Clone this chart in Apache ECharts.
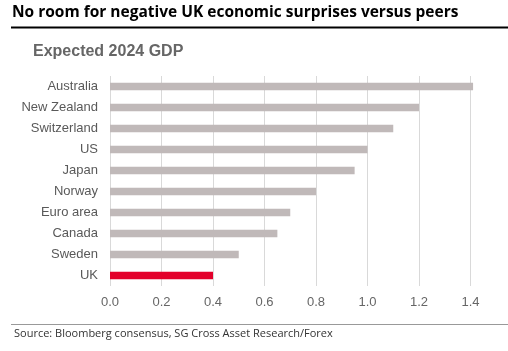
<!DOCTYPE html>
<html style="height: 100%">
<head>
   <meta charset="utf-8">
</head>
<style>
    body, html, #chart {
        margin: 0;
        width: 100%;
        height: 100%;
        background: #fff;
    }
</style>
<title>Expected 2024 GDP</title>
<script src="https://cdn.jsdelivr.net/npm/echarts@6/dist/echarts.min.js"></script>
<body>
   <div id="chart"></div>
   <script type="text/javascript">
    // data, top to bottom as drawn
    var countries = ['Australia', 'New Zealand', 'Switzerland', 'US', 'Japan', 'Norway', 'Euro area', 'Canada', 'Sweden', 'UK'];
    var gdp2024 = [1.41, 1.2, 1.1, 1.0, 0.95, 0.8, 0.7, 0.65, 0.5, 0.4];
    var highlight = 'UK';

    var chart = echarts.init(document.getElementById('chart'));

    // category axis runs bottom-up, so reverse for drawing
    var cats = countries.slice().reverse();
    var vals = gdp2024.slice().reverse().map(function (v, i) {
        return {
            value: v,
            itemStyle: { color: cats[i] === highlight ? '#e3002b' : '#c0b9b9' }
        };
    });

    var option = {
        animation: false,
        grid: { left: 110, right: 37.5, top: 76, height: 210 },
        graphic: [
            {
                type: 'text', left: 12, top: 5,
                style: { text: 'No room for negative UK economic surprises versus peers', font: 'bold 15.5px "Open Sans"', fill: '#000' }
            },
            {
                type: 'line', shape: { x1: 11, y1: 27.5, x2: 508, y2: 27.5 },
                style: { stroke: '#000', lineWidth: 2 }
            },
            {
                type: 'text', left: 33, top: 44,
                style: { text: 'Expected 2024 GDP', font: 'bold 16px "Liberation Sans"', fill: '#666' }
            },
            {
                type: 'line', shape: { x1: 11, y1: 324.5, x2: 508, y2: 324.5 },
                style: { stroke: '#999', lineWidth: 1 }
            },
            {
                type: 'text', left: 14, top: 328,
                style: { text: 'Source: Bloomberg consensus, SG Cross Asset Research/Forex', font: '11px "Open Sans"', fill: '#333' }
            }
        ],
        xAxis: {
            type: 'value',
            min: 0,
            max: 1.4,
            interval: 0.2,
            axisLine: { show: false },
            axisTick: { show: false },
            splitLine: { lineStyle: { color: '#d9d9d9', width: 1 } },
            axisLabel: {
                margin: 10,
                color: '#666',
                fontSize: 13,
                fontFamily: 'Liberation Sans',
                formatter: function (v) { return v.toFixed(1); }
            }
        },
        yAxis: {
            type: 'category',
            data: cats,
            axisLine: { show: false },
            axisTick: { show: false },
            axisLabel: { margin: 12, color: '#595959', fontSize: 13, fontFamily: 'Liberation Sans' }
        },
        series: [{
            type: 'bar',
            data: vals,
            barWidth: 7.5,
            clip: false
        }]
    };
    chart.setOption(option);
   </script>
</body>
</html>
